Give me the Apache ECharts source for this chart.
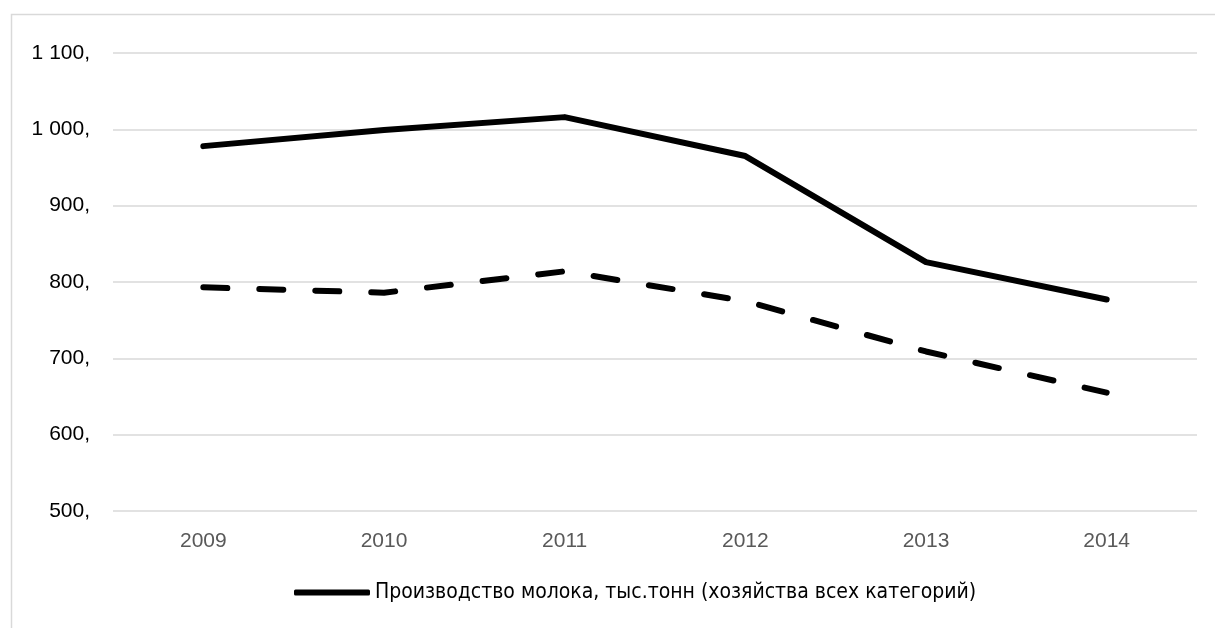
<!DOCTYPE html>
<html>
<head>
<meta charset="UTF-8">
<title>Milk production</title>
<style>
    html, body { margin: 0; padding: 0; background: #fff; }
    #chartArea { width: 1215px; height: 628px; }
</style>
</head>
<body>
<div id="chartArea"></div>
<script src="https://cdn.jsdelivr.net/npm/echarts@6/dist/echarts.min.js"></script>
<script>
var years = ['2009', '2010', '2011', '2012', '2013', '2014'];
var milkAll = [978, 999, 1016, 965, 826, 777];
var milkSecond = [793, 786, 814, 775, 709, 655];
var seriesName = 'Производство молока, тыс.тонн (хозяйства всех категорий)';

var myChart = echarts.init(document.getElementById('chartArea'));
myChart.setOption({
    animation: false,
    graphic: [{
        type: 'rect',
        left: 9, top: 12,
        shape: { width: 1230, height: 640 },
        style: { fill: 'none', stroke: '#d9d9d9', lineWidth: 1.5 }
    }],
    grid: { left: 113, right: 18, top: 53, bottom: 117 },
    legend: {
        data: [seriesName],
        bottom: 20,
        left: 289,
        itemWidth: 76,
        itemHeight: 6,
        itemGap: 4,
        icon: 'roundRect',
        textStyle: { fontFamily: 'Liberation Sans Narrow, DejaVu Sans Condensed, sans-serif', fontSize: 21, color: '#000' }
    },
    xAxis: {
        type: 'category',
        data: years,
        axisLine: { show: false },
        axisTick: { show: false },
        axisLabel: { color: '#595959', fontSize: 21, margin: 20, fontFamily: 'Liberation Sans, sans-serif' }
    },
    yAxis: {
        type: 'value',
        min: 500, max: 1100, interval: 100,
        axisLine: { show: false },
        axisTick: { show: false },
        splitLine: { lineStyle: { color: '#d9d9d9', width: 1.5 } },
        axisLabel: {
            color: '#000', fontSize: 21, margin: 23, fontFamily: 'Liberation Sans, sans-serif',
            formatter: function (v) {
                var s = String(v);
                if (s.length > 3) s = s.slice(0, s.length - 3) + ' ' + s.slice(-3);
                return s + ',';
            }
        }
    },
    series: [
        {
            name: seriesName,
            type: 'line',
            data: milkAll,
            symbol: 'none',
            itemStyle: { color: '#000' },
            lineStyle: { color: '#000', width: 6, cap: 'round', join: 'round' }
        },
        {
            name: 'second',
            type: 'line',
            data: milkSecond,
            symbol: 'none',
            itemStyle: { color: '#000' },
            lineStyle: { color: '#000', width: 6, type: [24, 32], cap: 'round', join: 'round' }
        }
    ]
});
</script>
</body>
</html>
